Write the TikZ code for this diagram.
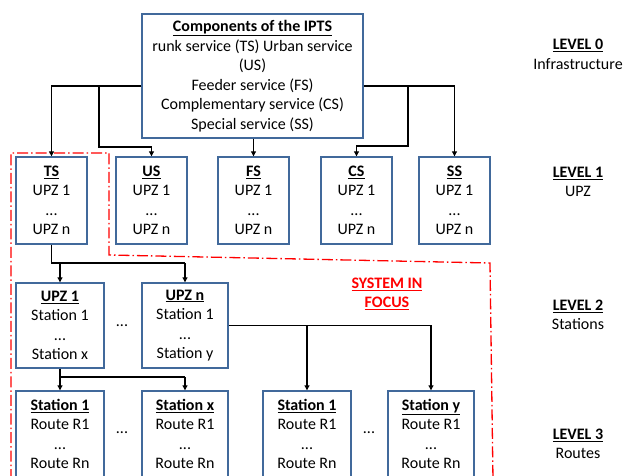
\documentclass[tikz,border=0pt]{standalone}
\usepackage{fontspec}
\setmainfont{Carlito}
\usetikzlibrary{arrows.meta}
\definecolor{boxblue}{RGB}{65,105,155}
\definecolor{focusred}{RGB}{255,0,0}
\begin{document}
\begin{tikzpicture}[x=1pt,y=-1pt,
 box/.style={draw=boxblue,line width=1.4pt,fill=white,inner sep=0pt,align=center,font=\fontsize{16}{19.5}\selectfont},
 conn/.style={line width=1.1pt,black},
 arr/.style={conn,-{Triangle[length=5pt,width=5pt]}},
 lvl/.style={align=center,font=\fontsize{16}{19.5}\selectfont},
 plain/.style={align=center,font=\fontsize{16}{19.5}\selectfont},
 focus/.style={focusred,line width=1.3pt,dash pattern=on 11pt off 3pt on 1.5pt off 3pt}]
\useasboundingbox (0,0) rectangle (625,476);

% system in focus boundary
\coordinate (f1) at (11,480);
\coordinate (f2) at (11,153);
\coordinate (f3) at (109,153);
\coordinate (f4) at (109,255);
\coordinate (f5) at (490,263);
\coordinate (f6) at (493,480);
\draw[focus] (f1) -- (f2) -- (f3) -- (f4) -- (f5) -- (f6);

% level 0
\node[box,minimum width=221pt,minimum height=124pt] (top) at (252.5,76)
 {\underline{\textbf{Components of the IPTS}}\\runk service (TS) Urban service\\(US)\\Feeder service (FS)\\Complementary service (CS)\\Special service (SS)};

% level 1
\node[box,minimum width=71pt,minimum height=87pt] (ts) at (51.5,200.5) {\underline{\textbf{TS}}\\UPZ 1\\...\\UPZ n};
\node[box,minimum width=71pt,minimum height=87pt] (us) at (151.5,200.5) {\underline{\textbf{US}}\\UPZ 1\\...\\UPZ n};
\node[box,minimum width=71pt,minimum height=87pt] (fs) at (253.5,200.5) {\underline{\textbf{FS}}\\UPZ 1\\...\\UPZ n};
\node[box,minimum width=71pt,minimum height=87pt] (cs) at (356.5,200.5) {\underline{\textbf{CS}}\\UPZ 1\\...\\UPZ n};
\node[box,minimum width=71pt,minimum height=87pt] (ss) at (454.5,200.5) {\underline{\textbf{SS}}\\UPZ 1\\...\\UPZ n};

% level 2
\node[box,minimum width=88pt,minimum height=85pt] (upz1) at (60,325.5) {\underline{\textbf{UPZ 1}}\\Station 1\\...\\Station x};
\node[box,minimum width=86pt,minimum height=85pt] (upzn) at (185,325.5) {\underline{\textbf{UPZ n}}\\Station 1\\...\\Station y};
\node[plain] (d2) at (122,326) {...};

% level 3
\node[box,minimum width=88pt,minimum height=86pt] (st1) at (60,434) {\underline{\textbf{Station 1}}\\Route R1\\...\\Route Rn};
\node[box,minimum width=86pt,minimum height=86pt] (stx) at (185,434) {\underline{\textbf{Station x}}\\Route R1\\...\\Route Rn};
\node[box,minimum width=88pt,minimum height=86pt] (st1b) at (307,434) {\underline{\textbf{Station 1}}\\Route R1\\...\\Route Rn};
\node[box,minimum width=86pt,minimum height=86pt] (sty) at (431,434) {\underline{\textbf{Station y}}\\Route R1\\...\\Route Rn};
\node[plain] (d3a) at (122,433) {...};
\node[plain] (d3b) at (369,433) {...};

% focus label
\node[plain,text=focusred] (sif) at (387,294) {\underline{\textbf{SYSTEM IN}}\\\underline{\textbf{FOCUS}}};

% level labels
\node[lvl] (l0) at (578,54.5) {\underline{\textbf{LEVEL 0}}\\Infrastructure};
\node[lvl] (l1) at (578,182) {\underline{\textbf{LEVEL 1}}\\UPZ};
\node[lvl] (l2) at (578,315) {\underline{\textbf{LEVEL 2}}\\Stations};
\node[lvl] (l3) at (578,444) {\underline{\textbf{LEVEL 3}}\\Routes};

% connectors level 0 -> 1
\coordinate (hl) at (0,86);
\coordinate (usb1) at (99,86);
\coordinate (usb2) at (99,147);
\coordinate (csb1) at (408,86);
\coordinate (csb2) at (408,146);
\draw[arr] (top.west |- hl) -| (ts.north);
\draw[arr] (usb1) -- (usb2) -| (us.north);
\draw[arr] (fs.north |- top.south) -- (fs.north);
\draw[arr] (csb1) -- (csb2) -| (cs.north);
\draw[arr] (top.east |- hl) -| (ss.north);

% level 1 -> 2
\coordinate (j2) at (0,263);
\draw[conn] (ts.south) -- (ts.south |- j2) -- (upzn.north |- j2);
\draw[arr] (upz1.north |- j2) -- (upz1.north);
\draw[arr] (upzn.north |- j2) -- (upzn.north);

% level 2 -> 3
\coordinate (j3) at (0,377);
\draw[conn] (upz1.south) -- (upz1.south |- j3) -- (stx.north |- j3);
\draw[arr] (st1.north |- j3) -- (st1.north);
\draw[arr] (stx.north |- j3) -- (stx.north);
\draw[conn] (upzn.east) -- (sty.north |- upzn.east);
\draw[arr] (st1b.north |- upzn.east) -- (st1b.north);
\draw[arr] (sty.north |- upzn.east) -- (sty.north);
\end{tikzpicture}
\end{document}
